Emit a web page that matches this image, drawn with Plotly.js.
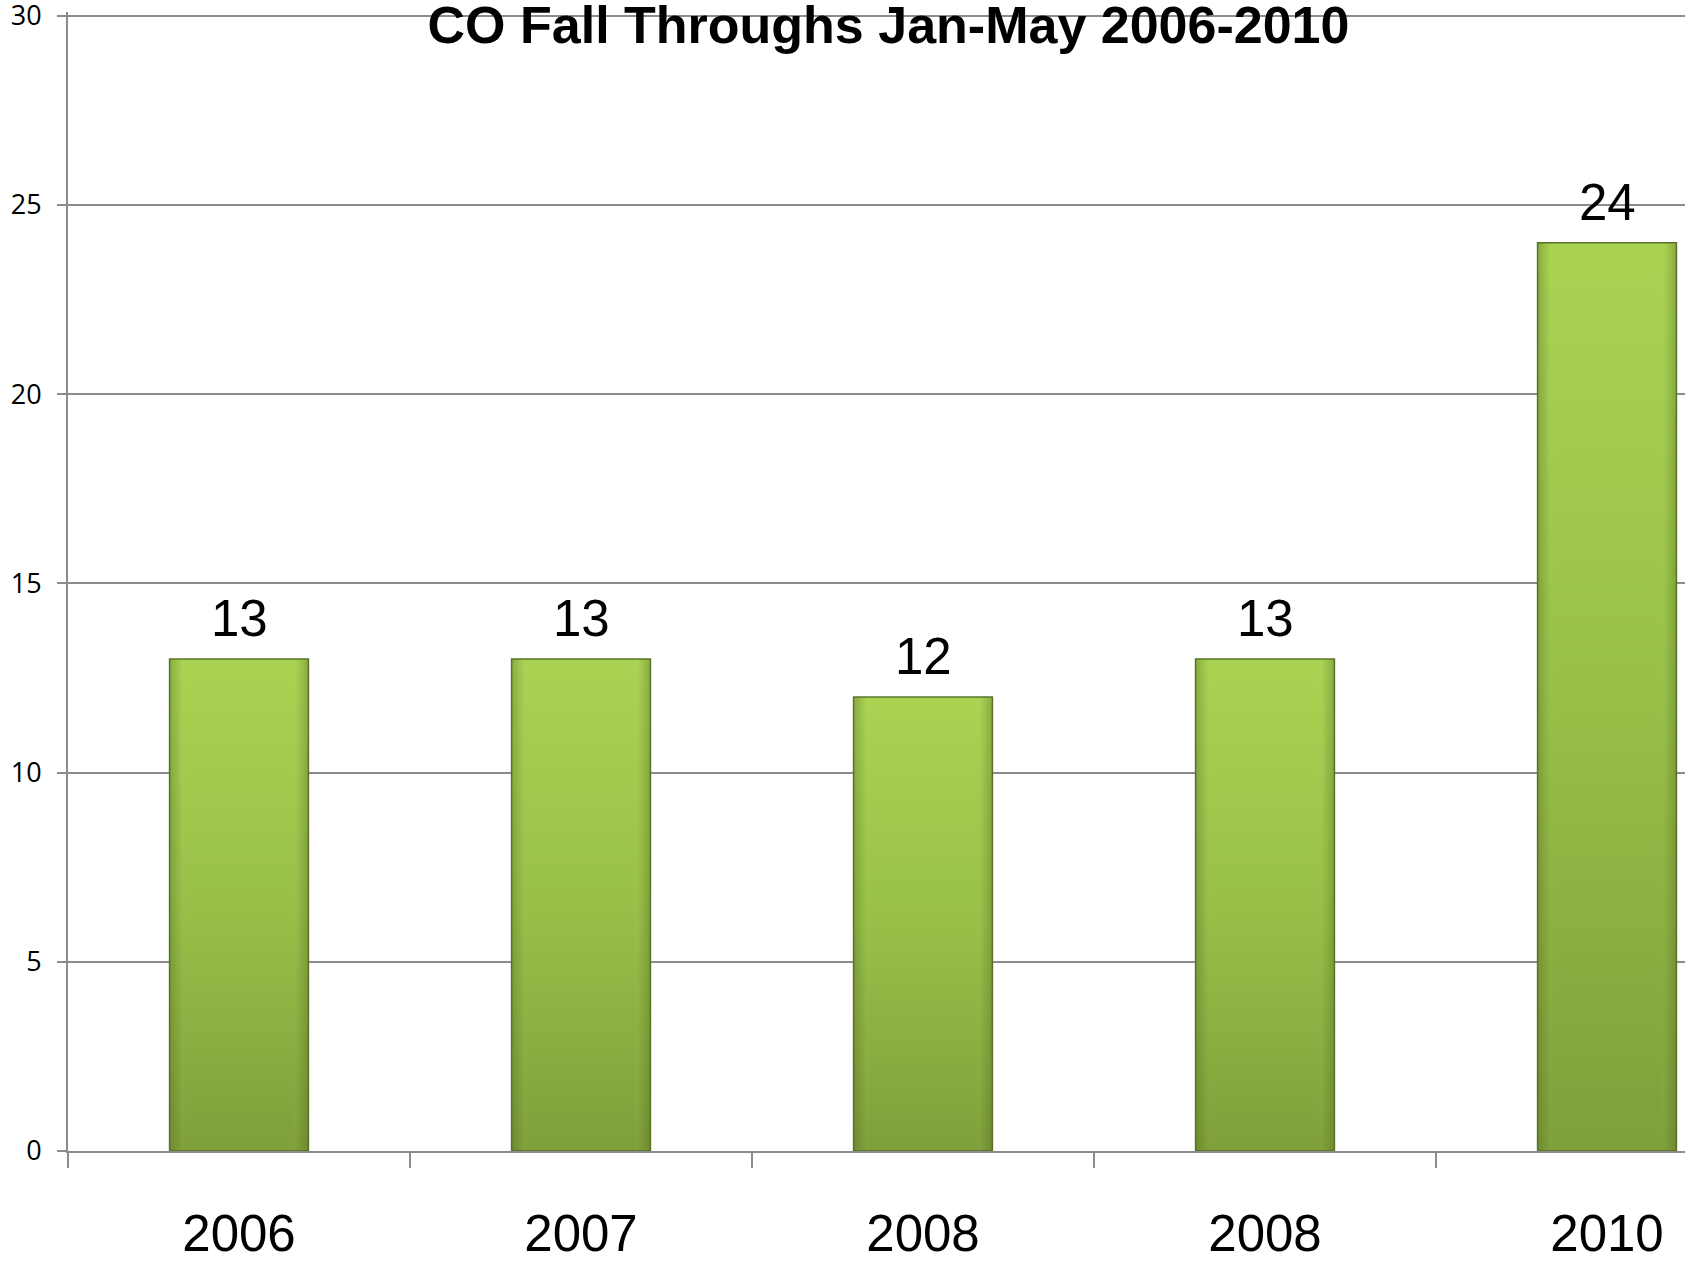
<!DOCTYPE html>
<html>
<head>
<meta charset="utf-8">
<script src="https://cdn.plot.ly/plotly-3.0.1.min.js"></script>
<style>
html,body{margin:0;padding:0;background:#fff;overflow:hidden;}
#chart{width:1685px;height:1261px;}
</style>
</head>
<body>
<div id="chart"></div>
<script>
// Data
const yearLabels = ['2006', '2007', '2008', '2008', '2010'];
const fallThroughs = [13, 13, 12, 13, 24];
const yTicks = [0, 5, 10, 15, 20, 25, 30];
const chartTitle = 'CO Fall Throughs Jan-May 2006-2010';

const idx = yearLabels.map((_, i) => i);
const boundaries = [];
for (let i = 0; i <= yearLabels.length; i++) boundaries.push(i - 0.5);

const W = 1685, H = 1261;
const plotLeft = 68, plotTop = 12, plotBottom = 1151;
const catWidth = 342;
const xEnd = -0.5 + (W - plotLeft) / catWidth;

const gridColor = '#8c8c8c';
const bigFont = {family: 'Liberation Sans, Arial, sans-serif', size: 51, color: '#000'};

const trace = {
  type: 'bar',
  x: idx,
  y: fallThroughs,
  width: 0.406,
  marker: {color: '#97bd47', line: {color: '#5a7428', width: 1.5}},
  hoverinfo: 'skip',
  xaxis: 'x', yaxis: 'y'
};

const tickTrace = {
  type: 'scatter', x: [], y: [], xaxis: 'x2', yaxis: 'y', showlegend: false, hoverinfo: 'skip'
};

const annotations = fallThroughs.map((v, i) => ({
  x: i, y: v, xref: 'x', yref: 'y',
  text: String(v), showarrow: false,
  yanchor: 'bottom', yshift: 10,
  font: bigFont
}));

const layout = {
  width: W, height: H,
  margin: {l: plotLeft, r: 0, t: plotTop, b: H - plotBottom, pad: 0},
  paper_bgcolor: '#fff', plot_bgcolor: '#fff',
  showlegend: false,
  title: {
    text: '<b>' + chartTitle + '</b>',
    font: {family: 'Liberation Sans, Arial, sans-serif', size: 52, color: '#000'},
    x: 888.5 / W, xanchor: 'center', xref: 'container',
    y: 1 - 25 / H, yanchor: 'middle', yref: 'container',
    automargin: false
  },
  xaxis: {
    range: [-0.5, xEnd],
    tickmode: 'array', tickvals: idx, ticktext: yearLabels,
    ticks: '', showgrid: false, zeroline: false,
    showline: true, linecolor: gridColor, linewidth: 2,
    tickfont: bigFont, ticklabelstandoff: 37,
    fixedrange: true
  },
  xaxis2: {
    overlaying: 'x', matches: 'x', side: 'bottom',
    range: [-0.5, xEnd],
    tickmode: 'array', tickvals: boundaries,
    ticks: 'outside', ticklen: 16, tickwidth: 2, tickcolor: gridColor,
    showticklabels: false, showgrid: false, zeroline: false, showline: false
  },
  yaxis: {
    range: [0, 30.1],
    tickmode: 'array', tickvals: yTicks,
    ticks: 'outside', ticklen: 9, tickwidth: 2, tickcolor: gridColor,
    showgrid: true, gridcolor: gridColor, gridwidth: 2,
    zeroline: false, showline: true, linecolor: gridColor, linewidth: 2,
    tickfont: {family: 'Open Sans, sans-serif', size: 27, color: '#000'},
    ticklabelstandoff: 10, ticklabeloverflow: 'allow',
    fixedrange: true
  },
  bargap: 0.594,
  annotations: annotations
};

Plotly.newPlot('chart', [trace, tickTrace], layout, {displayModeBar: false, staticPlot: true}).then(gd => {
  const svg = gd.querySelector('svg.main-svg');
  const NS = 'http://www.w3.org/2000/svg';
  let defs = svg.querySelector('defs');
  if (!defs) { defs = document.createElementNS(NS, 'defs'); svg.insertBefore(defs, svg.firstChild); }
  function grad(id, x2, y2, stops) {
    const g = document.createElementNS(NS, 'linearGradient');
    g.setAttribute('id', id);
    g.setAttribute('x1', '0'); g.setAttribute('y1', '0');
    g.setAttribute('x2', x2); g.setAttribute('y2', y2);
    stops.forEach(s => {
      const st = document.createElementNS(NS, 'stop');
      st.setAttribute('offset', s[0]);
      st.setAttribute('stop-color', s[1]);
      st.setAttribute('stop-opacity', s[2]);
      g.appendChild(st);
    });
    defs.appendChild(g);
  }
  grad('barV', '0', '1', [['0', '#aad352', 1], ['0.5', '#98c048', 1], ['1', '#7f9f3a', 1]]);
  grad('barH', '1', '0', [['0', '#4d6420', 0.35], ['0.07', '#4d6420', 0.08], ['0.12', '#ffffff', 0], ['0.88', '#ffffff', 0], ['0.93', '#4d6420', 0.08], ['1', '#4d6420', 0.35]]);
  gd.querySelectorAll('.barlayer .point path').forEach(p => {
    p.style.fill = 'url(#barV)';
    const o1 = p.cloneNode(true);
    o1.style.fill = 'url(#barH)'; o1.style.stroke = 'none';
    p.parentNode.appendChild(o1);
  });
});
</script>
</body>
</html>
